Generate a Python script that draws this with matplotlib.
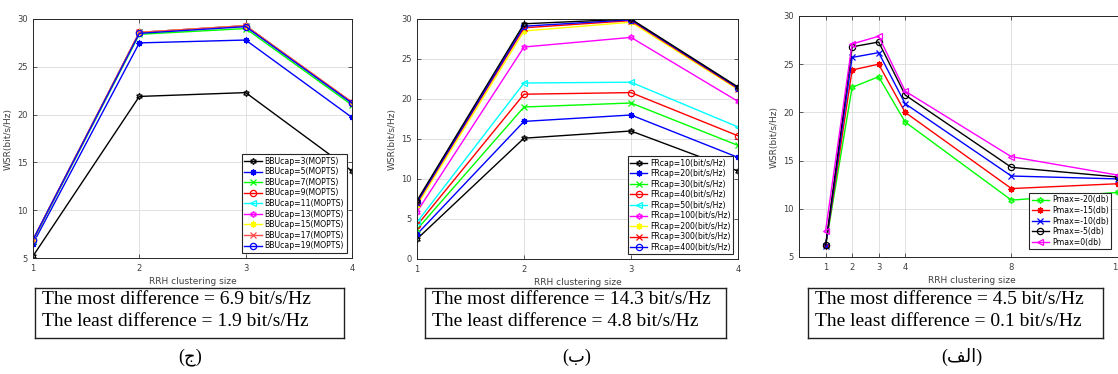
import matplotlib.pyplot as plt

# ---- panel (ج) : BBU capacity
x_bbu = [1, 2, 3, 4]
bbu_labels = ['BBUcap=3(MOPTS)', 'BBUcap=5(MOPTS)', 'BBUcap=7(MOPTS)', 'BBUcap=9(MOPTS)',
              'BBUcap=11(MOPTS)', 'BBUcap=13(MOPTS)', 'BBUcap=15(MOPTS)', 'BBUcap=17(MOPTS)',
              'BBUcap=19(MOPTS)']
bbu3 = [5.2, 21.9, 22.3, 14.1]
bbu5 = [6.5, 27.5, 27.8, 19.7]
bbu7 = [6.8, 28.4, 29.0, 21.0]
bbu9 = [6.9, 28.6, 29.3, 21.2]
bbu11 = [6.9, 28.6, 29.3, 21.2]
bbu13 = [6.9, 28.6, 29.3, 21.3]
bbu15 = [6.9, 28.6, 29.3, 21.3]
bbu17 = [6.9, 28.6, 29.3, 21.3]
bbu19 = [6.9, 28.5, 29.2, 21.2]

# ---- panel (ب) : fronthaul capacity
x_fr = [1, 2, 3, 4]
fr_labels = ['FRcap=10(bit/s/Hz)', 'FRcap=20(bit/s/Hz)', 'FRcap=30(bit/s/Hz)', 'FRcap=40(bit/s/Hz)',
             'FRcap=50(bit/s/Hz)', 'FRcap=100(bit/s/Hz)', 'FRcap=200(bit/s/Hz)', 'FRcap=300(bit/s/Hz)',
             'FRcap=400(bit/s/Hz)']
fr10 = [2.5, 15.1, 16.0, 11.0]
fr20 = [3.1, 17.2, 18.0, 12.7]
fr30 = [3.7, 19.0, 19.5, 14.2]
fr40 = [4.2, 20.6, 20.8, 15.4]
fr50 = [4.6, 22.0, 22.1, 16.5]
fr100 = [5.9, 26.5, 27.7, 19.7]
fr200 = [6.7, 28.5, 29.6, 21.2]
fr300 = [7.0, 28.9, 29.8, 21.3]
fr400 = [7.1, 29.1, 29.9, 21.4]
fr_top = [7.3, 29.4, 30.0, 21.5]

# ---- panel (الف) : max power
x_p = [1, 2, 3, 4, 8, 12]
p_labels = ['Pmax=-20(db)', 'Pmax=-15(db)', 'Pmax=-10(db)', 'Pmax=-5(db)', 'Pmax=0(db)']
p20 = [6.1, 22.6, 23.7, 19.0, 10.9, 11.7]
p15 = [6.1, 24.4, 25.0, 20.0, 12.1, 12.6]
p10 = [6.1, 25.7, 26.2, 20.9, 13.4, 13.1]
p5 = [6.2, 26.8, 27.3, 21.8, 14.3, 13.3]
p0 = [7.7, 27.1, 27.9, 22.2, 15.4, 13.5]

box_texts = [['The most difference = 6.9 bit/s/Hz', 'The least difference = 1.9 bit/s/Hz'],
             ['The most difference = 14.3 bit/s/Hz', 'The least difference = 4.8 bit/s/Hz'],
             ['The most difference = 4.5 bit/s/Hz', 'The least difference = 0.1 bit/s/Hz']]
# Arabic presentation forms so the letters come out joined
panel_names = ['(\uFE9D)', '(\uFE8F)', '(\uFED2\uFEDF\uFE8D)']

W, H = 1118, 374
hexa = (6, 1, 0)
aster = (8, 2, 0)
G, C, M, Y = '#00ff00', '#00ffff', '#ff00ff', '#ffff00'


def px(l, t, r, b):
    return [l / W, 1 - b / H, (r - l) / W, (b - t) / H]


def style_ax(ax):
    ax.grid(True, color='#dcdcdc', lw=0.6)
    ax.set_axisbelow(True)
    ax.tick_params(direction='in', length=3, width=0.6, labelsize=6, colors='#404040',
                   top=True, right=True, pad=4)
    for s in ax.spines.values():
        s.set_color('#262626')
        s.set_linewidth(0.7)
    ax.set_xlabel('RRH clustering size', fontsize=6.5, color='#404040', labelpad=3)
    ax.set_ylabel('WSR(bit/s/Hz)', fontsize=6.5, color='#404040', labelpad=3)


def legend(ax, **kw):
    lg = ax.legend(fontsize=5.6, labelspacing=0.2, handlelength=2.2, handletextpad=0.4,
                   borderpad=0.3, fancybox=False, framealpha=1, **kw)
    lg.get_frame().set_edgecolor('#262626')
    lg.get_frame().set_linewidth(0.8)


fig = plt.figure(figsize=(W / 100, H / 100), dpi=100)

# panel 1
ax1 = fig.add_axes(px(33, 19, 352, 258))
series = [bbu3, bbu5, bbu7, bbu9, bbu11, bbu13, bbu15, bbu17, bbu19]
colors = ['k', 'b', G, 'r', C, M, Y, '#ff4a4a', 'b']
markers = [hexa, aster, 'x', 'o', '<', hexa, aster, 'x', 'o']
for y, c, m, lab in zip(series, colors, markers, bbu_labels):
    ax1.plot(x_bbu, y, color=c, marker=m, mfc='none', ms=4.5, mew=0.9, lw=1.0, label=lab)
ax1.set_xlim(1, 4)
ax1.set_ylim(5, 30)
ax1.set_xticks([1, 2, 3, 4])
style_ax(ax1)
legend(ax1, loc='lower right', borderaxespad=0.7)

# panel 2
ax2 = fig.add_axes(px(417, 19, 738, 259))
series = [fr10, fr20, fr30, fr40, fr50, fr100, fr200, fr300, fr400]
colors = ['k', 'b', G, 'r', C, M, Y, 'r', 'b']
for y, c, m, lab in zip(series, colors, markers, fr_labels):
    ax2.plot(x_fr, y, color=c, marker=m, mfc='none', ms=4.5, mew=0.9, lw=1.0, label=lab)
ax2.plot(x_fr, fr_top, color='k', marker=hexa, mfc='none', ms=4.5, mew=0.9, lw=1.0)
ax2.set_xlim(1, 4)
ax2.set_ylim(0, 30)
ax2.set_xticks([1, 2, 3, 4])
style_ax(ax2)
legend(ax2, loc='lower right', borderaxespad=0.6)

# panel 3 (right part is cut off in the original)
ax3 = fig.add_axes(px(799, 16, 799 + 13 * 26.55, 257))
series = [p20, p15, p10, p5, p0]
colors = [G, 'r', 'b', 'k', M]
markers = [hexa, aster, 'x', 'o', '<']
for y, c, m, lab in zip(series, colors, markers, p_labels):
    ax3.plot(x_p, y, color=c, marker=m, mfc='none', ms=4.5, mew=0.9, lw=1.0, label=lab)
ax3.set_xlim(0, 13)
ax3.set_ylim(5, 30)
ax3.set_xticks(x_p)
style_ax(ax3)
legend(ax3, loc='lower right', bbox_to_anchor=(1111 / W, 1 - 249 / H),
       bbox_transform=fig.transFigure, borderaxespad=0)

# text boxes and panel names
boxes = [(35, 344), (425, 726), (808, 1103)]
name_x = [190, 577, 962]
for (l, r), txt, name, nx in zip(boxes, box_texts, panel_names, name_x):
    bx = fig.add_axes(px(l, 288, r, 338))
    bx.set_xticks([])
    bx.set_yticks([])
    for s in bx.spines.values():
        s.set_linewidth(1.0)
        s.set_color('#202020')
    fig.text((l + 7) / W, 1 - 299 / H, txt[0], fontsize=14, family='Liberation Serif', va='center')
    fig.text((l + 7) / W, 1 - 321 / H, txt[1], fontsize=14, family='Liberation Serif', va='center')
    fig.text(nx / W, 1 - 357 / H, name, fontsize=13, family=['Liberation Serif', 'DejaVu Sans'],
             ha='center', va='center')

plt.savefig('out.png', dpi=100)
